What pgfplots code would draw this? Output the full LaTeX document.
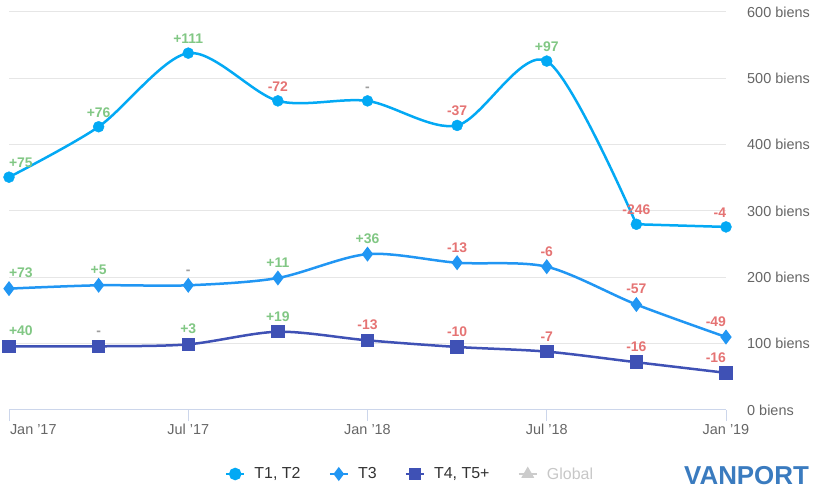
\documentclass[border=0pt]{standalone}
\usepackage{pgfplots}
\pgfplotsset{compat=1.18}
\usepackage{fontspec}
\setmainfont{Liberation Sans}
\definecolor{cA}{HTML}{03A9F4}
\definecolor{cB}{HTML}{2196F3}
\definecolor{cC}{HTML}{3F51B5}
\definecolor{pos}{HTML}{81C784}
\definecolor{neg}{HTML}{E57373}
\definecolor{zer}{HTML}{9E9E9E}
\definecolor{gridc}{HTML}{E6E6E6}
\definecolor{axc}{HTML}{CCD6EB}
\definecolor{txt}{HTML}{666666}
\definecolor{legtxt}{HTML}{333333}
\definecolor{logo}{HTML}{3A7BBF}
\newcommand{\lp}[1]{\textcolor{pos}{#1}}
\newcommand{\lneg}[1]{\textcolor{neg}{#1}}
\newcommand{\lz}{\textcolor{zer}{-}}
\begin{document}
\begin{tikzpicture}
\useasboundingbox (0,0) rectangle (826bp,503bp);
\begin{axis}[
  at={(9bp,93bp)}, anchor=south west,
  scale only axis, width=717bp, height=398bp,
  xmin=0, xmax=24, ymin=0, ymax=600,
  enlargelimits=false, clip=false,
  axis x line*=bottom, axis y line*=right,
  y axis line style={draw=none},
  x axis line style={draw=axc, line width=1bp},
  xtick={0,6,12,18,24},
  xticklabels={{\makebox[0pt][l]{\hspace{1bp}Jan '17}},Jul '17,Jan '18,Jul '18,Jan '19},
  xtick style={draw=axc, line width=1bp},
  tick align=outside, major tick length=11bp,
  xticklabel style={font=\fontsize{14.5}{15}\selectfont, text=txt},
  ytick={0,100,...,600},
  yticklabel={\pgfmathprintnumber{\tick} biens},
  yticklabel style={anchor=west, inner sep=0pt, xshift=10bp, font=\fontsize{14.5}{15}\selectfont, text=txt},
  /pgf/number format/assume math mode=true,
  ytick style={draw=none},
  ymajorgrids, grid style={gridc, line width=1bp},
  legend columns=4,
  legend style={at={(0.560,0)}, anchor=center, yshift=-64bp, draw=none, fill=none,
    nodes={inner sep=3bp, font=\fontsize{16}{16}\selectfont, text=legtxt},
    /tikz/every odd column/.append style={column sep=6bp},
    /tikz/every even column/.append style={column sep=25bp}},
  legend cell align=left,
  legend image code/.code={\draw[mark repeat=2,mark phase=2] plot coordinates {(0bp,0bp)(9bp,0bp)(18bp,0bp)};},
  every node near coord/.append style={font=\bfseries\fontsize{14}{14}\selectfont, anchor=south, yshift=6bp},
]
% legend images
\addlegendimage{cA, line width=2.5bp, mark=*, mark size=5bp}
\addlegendentry{T1, T2}
\addlegendimage{cB, line width=2.5bp, mark=diamond*, mark size=5bp}
\addlegendentry{T3}
\addlegendimage{cC, line width=2.5bp, mark=square*, mark size=5bp}
\addlegendentry{T4, T5+}
\addlegendimage{color=black!20, line width=2.5bp, mark=triangle*, mark size=5bp}
\addlegendentry{\textcolor{black!22}{Global}}
% T1, T2
\addplot[cA, line width=2.5bp, smooth, tension=0.5, forget plot]
coordinates {(0,351)(3,427)(6,538)(9,466)(12,466)(15,429)(18,526)(21,280)};
\addplot[cA, line width=2.5bp, forget plot]
coordinates {(21,280)(24,276)};
\addplot[cA, only marks, mark=*, mark size=5.5bp, nodes near coords, point meta=explicit symbolic, forget plot]
coordinates {
 (0,351) [\rlap{\lp{+75}}]
 (3,427) [\lp{+76}]
 (6,538) [\lp{+111}]
 (9,466) [\lneg{-72}]
 (12,466) [\lz]
 (15,429) [\lneg{-37}]
 (18,526) [\lp{+97}]
 (21,280) [\lneg{-246}]
 (24,276) [\llap{\lneg{-4}}]
};
% T3
\addplot[cB, line width=2.5bp, smooth, tension=0.5, mark=diamond*, mark size=5.5bp, nodes near coords, point meta=explicit symbolic, forget plot]
coordinates {
 (0,183) [\rlap{\lp{+73}}]
 (3,188) [\lp{+5}]
 (6,188) [\lz]
 (9,199) [\lp{+11}]
 (12,235) [\lp{+36}]
 (15,222) [\lneg{-13}]
 (18,216) [\lneg{-6}]
 (21,159) [\lneg{-57}]
 (24,110) [\llap{\lneg{-49}}]
};
% T4, T5+
\addplot[cC, line width=2.5bp, smooth, tension=0.5, mark=square*, mark size=5.5bp, nodes near coords, point meta=explicit symbolic, forget plot]
coordinates {
 (0,96) [\rlap{\lp{+40}}]
 (3,96) [\lz]
 (6,99) [\lp{+3}]
 (9,118) [\lp{+19}]
 (12,105) [\lneg{-13}]
 (15,95) [\lneg{-10}]
 (18,88) [\lneg{-7}]
 (21,72) [\lneg{-16}]
 (24,56) [\llap{\lneg{-16}}]
};
\end{axis}
\node[anchor=west, inner sep=0pt, text=logo, font=\bfseries\fontsize{26}{26}\selectfont] at (684bp,27bp) {VANPORT};
\end{tikzpicture}
\end{document}
